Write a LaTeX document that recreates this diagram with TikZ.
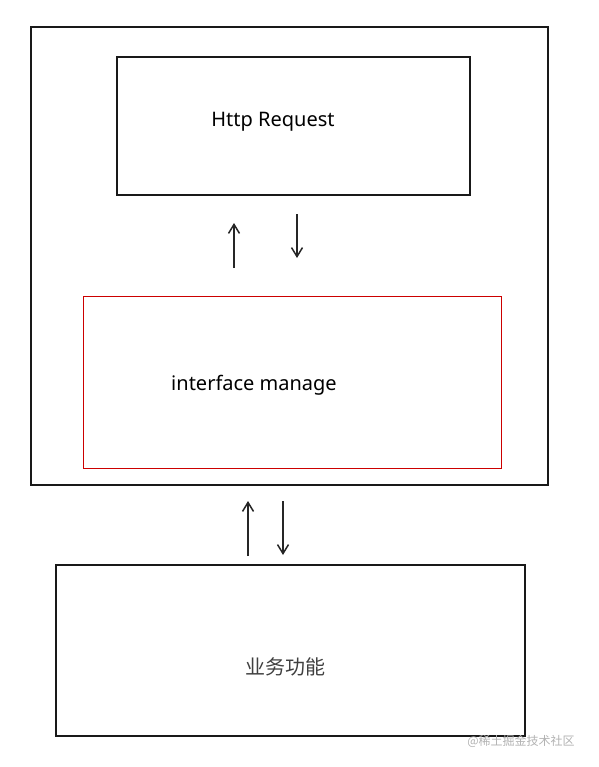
\documentclass[tikz,border=0pt]{standalone}
\usepackage{fontspec}
\setmainfont{Noto Sans}
\newfontfamily\cjk{Noto Sans CJK SC}
\usetikzlibrary{arrows.meta}

\begin{document}
\begin{tikzpicture}[x=1pt, y=-1pt, line width=1.1pt,
  box/.style={draw=black!90, rectangle, inner sep=0pt},
  label/.style={font=\fontsize{20}{24}\selectfont},
  flow/.style={-{Straight Barb[length=9pt, width=11pt]}, line width=1.5pt, black!85}]
          \useasboundingbox (0,0) rectangle (598,767);

          % Outer frame and boxes
          \node[box, minimum width=517pt, minimum height=458pt] (frame) at (289.5, 256) {};
          \node[box, minimum width=353pt, minimum height=138pt] (http) at (293.5, 126) {};
          \node[box, draw=red!80!black, line width=1pt, minimum width=418pt, minimum height=172pt] (iface) at (292, 382) {};
          \node[box, minimum width=469pt, minimum height=171pt] (biz) at (290.5, 650.5) {};

          % Texts
          \node[label] (httpT) at (273, 122) {Http Request};
          \node[label] (ifaceT) at (254, 385) {interface manage};
          \node[font=\cjk\fontsize{20}{24}\selectfont, text=black!75] (bizT) at (285, 667) {业务功能};
          \node[font=\cjk\fontsize{12}{14}\selectfont, text=black!30] (mark) at (521, 741) {@稀土掘金技术社区};

          % Arrow ends
          \coordinate (u1a) at (234, 268);
          \coordinate (u1b) at (234, 223);
          \coordinate (d1a) at (297, 214);
          \coordinate (d1b) at (297, 258);
          \coordinate (u2a) at (248, 556);
          \coordinate (u2b) at (248, 501);
          \coordinate (d2a) at (283, 501);
          \coordinate (d2b) at (283, 555);

          % Directed edges
          \draw [flow] (u1a) -- (u1b);
          \draw [flow] (d1a) -- (d1b);
          \draw [flow] (u2a) -- (u2b);
          \draw [flow] (d2a) -- (d2b);
        \end{tikzpicture}
\end{document}
